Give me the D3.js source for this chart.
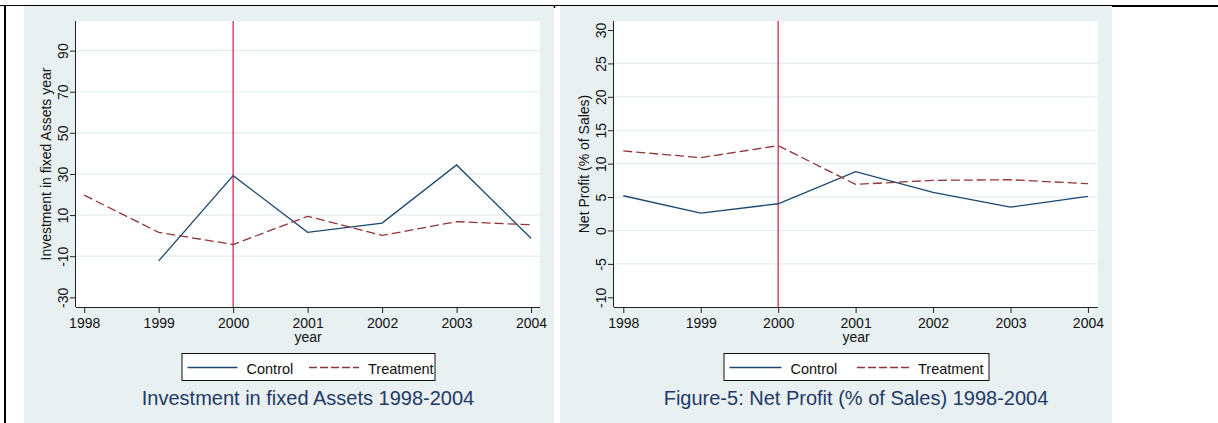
<!DOCTYPE html>
<html>
<head>
<meta charset="utf-8">
<script src="https://cdn.jsdelivr.net/npm/d3@7"></script>
<style>
  html, body { margin: 0; padding: 0; background: #ffffff; }
  svg { display: block; font-family: "Liberation Sans", Arial, sans-serif; }
</style>
</head>
<body>
<svg id="chart" width="1218" height="423"></svg>
<script>
// ---- data ----
const years = [1998, 1999, 2000, 2001, 2002, 2003, 2004];
const investControl   = [null, -12.3, 29.2, 1.6, 6.1, 34.4, -1.3];
const investTreatment = [19.7, 1.6, -4.3, 9.4, 0.1, 6.8, 5.3];
const profitControl   = [5.2, 2.6, 4.0, 8.8, 5.7, 3.5, 5.1];
const profitTreatment = [11.9, 10.9, 12.7, 6.9, 7.5, 7.6, 7.0];
const investTicks = [-30, -10, 10, 30, 50, 70, 90];
const investGrid  = [-10, 10, 30, 50, 70, 90];
const profitTicks = [-10, -5, 0, 5, 10, 15, 20, 25, 30];
const profitGrid  = [-5, 0, 5, 10, 15, 20, 25];
const seriesNames = ["Control", "Treatment"];
const eventYear = 2000;

// ---- styles ----
const BG = "#e8f0f2";
const GRID = "#e3ecef";
const C_CONTROL = "#1a476f";
const C_TREAT = "#90353b";
const C_EVENT = "#d31840";
const C_TITLE = "#1f3a66";
const FONT = "Liberation Sans, Arial, sans-serif";

const svg = d3.select("#chart");

function panel(cfg) {
  const g = svg.append("g");
  // panel background
  g.append("rect").attr("x", cfg.bgX0).attr("y", 6)
    .attr("width", cfg.bgX1 - cfg.bgX0).attr("height", 423 - 6).attr("fill", BG);
  const L = cfg.plotL, R = cfg.plotR, T = 21, B = 307;
  g.append("rect").attr("x", L).attr("y", T).attr("width", R - L).attr("height", B - T).attr("fill", "#ffffff");

  const x = d3.scaleLinear().domain(cfg.xDomain).range([L, R]);
  const y = d3.scaleLinear().domain(cfg.yDomain).range([B, T]);

  // gridlines
  g.append("g").selectAll("line").data(cfg.grid).join("line")
    .attr("x1", L).attr("x2", R)
    .attr("y1", d => y(d)).attr("y2", d => y(d))
    .attr("stroke", GRID).attr("stroke-width", 1.2);

  // event line
  g.append("line").attr("x1", x(eventYear)).attr("x2", x(eventYear))
    .attr("y1", T).attr("y2", B).attr("stroke", C_EVENT).attr("stroke-width", 1.2);

  // series lines
  const line = d3.line().defined(d => d[1] !== null).x(d => x(d[0])).y(d => y(d[1]));
  g.append("path").datum(years.map((yr, i) => [yr, cfg.control[i]]))
    .attr("d", line).attr("fill", "none").attr("stroke", C_CONTROL).attr("stroke-width", 1.3);
  g.append("path").datum(years.map((yr, i) => [yr, cfg.treat[i]]))
    .attr("d", line).attr("fill", "none").attr("stroke", C_TREAT).attr("stroke-width", 1.3)
    .attr("stroke-dasharray", "9,4");

  // x axis
  const xa = g.append("g").attr("transform", `translate(0,${B})`)
    .call(d3.axisBottom(x).tickValues(years).tickFormat(d => String(d)).tickSize(6).tickSizeOuter(0).tickPadding(5));
  xa.select(".domain").attr("d", `M${L},0.5H${R}`).attr("stroke", "#222");
  xa.selectAll(".tick line").attr("stroke", "#222");
  xa.selectAll(".tick text").attr("font-size", 14).attr("fill", "#111").attr("font-family", FONT);

  // y axis
  const ya = g.append("g").attr("transform", `translate(${L},0)`)
    .call(d3.axisLeft(y).tickValues(cfg.ticks).tickFormat(d => String(d)).tickSize(6).tickSizeOuter(0));
  ya.select(".domain").attr("d", `M-0.5,${T}V${B}`).attr("stroke", "#222");
  ya.selectAll(".tick line").attr("stroke", "#222");
  ya.selectAll(".tick text").attr("x", null).attr("dy", null)
    .attr("text-anchor", "middle").attr("transform", "translate(-8,0) rotate(-90)")
    .attr("font-size", 14).attr("fill", "#111").attr("font-family", FONT);

  // axis titles
  const cx = (L + R) / 2;
  g.append("text").attr("x", cx).attr("y", 342).attr("text-anchor", "middle")
    .attr("font-size", 14).attr("fill", "#111").text("year");
  g.append("text").attr("transform", `translate(${L - 25},${(T + B) / 2}) rotate(-90)`)
    .attr("text-anchor", "middle").attr("font-size", 14).attr("fill", "#111").text(cfg.yTitle);

  // legend
  const lw = cfg.legendW;
  const lx = cx - lw / 2, ly = 353, lh = 27;
  g.append("rect").attr("x", lx + 0.5).attr("y", ly + 0.5).attr("width", lw).attr("height", lh)
    .attr("fill", "#ffffff").attr("stroke", "#111").attr("stroke-width", 1);
  const keyLen = cfg.keyLen;
  const items = [
    { name: seriesNames[0], x0: lx + 6, color: C_CONTROL, dash: null },
    { name: seriesNames[1], x0: cx + 1, color: C_TREAT, dash: "8,3" }
  ];
  items.forEach(it => {
    g.append("line").attr("x1", it.x0).attr("x2", it.x0 + keyLen)
      .attr("y1", 367.5).attr("y2", 367.5).attr("stroke", it.color).attr("stroke-width", 1.3)
      .attr("stroke-dasharray", it.dash);
    g.append("text").attr("x", it.x0 + keyLen + 9).attr("y", 373.5)
      .attr("font-size", 14.5).attr("fill", "#111").text(it.name);
  });

  // title
  g.append("text").attr("x", cx).attr("y", 405).attr("text-anchor", "middle")
    .attr("font-size", 20).attr("fill", C_TITLE).text(cfg.title);
}

panel({
  bgX0: 24, bgX1: 554, plotL: 76, plotR: 540,
  xDomain: [1997.89, 2004.12], yDomain: [-34.7, 104.4],
  ticks: investTicks, grid: investGrid,
  control: investControl, treat: investTreatment,
  yTitle: "Investment in fixed Assets year",
  title: "Investment in fixed Assets 1998-2004",
  legendW: 253, keyLen: 50
});
panel({
  bgX0: 560, bgX1: 1112, plotL: 614, plotR: 1098,
  xDomain: [1997.88, 2004.13], yDomain: [-11.45, 31.35],
  ticks: profitTicks, grid: profitGrid,
  control: profitControl, treat: profitTreatment,
  yTitle: "Net Profit (% of Sales)",
  title: "Figure-5: Net Profit (% of Sales) 1998-2004",
  legendW: 265, keyLen: 52
});

// table borders
svg.append("line").attr("x1", 0).attr("x2", 1218).attr("y1", 5.5).attr("y2", 5.5)
  .attr("stroke", "#000").attr("stroke-width", 1);
svg.append("line").attr("x1", 1112).attr("x2", 1218).attr("y1", 6.5).attr("y2", 6.5)
  .attr("stroke", "#000").attr("stroke-width", 1);
svg.append("line").attr("x1", 5).attr("x2", 5).attr("y1", 5).attr("y2", 423)
  .attr("stroke", "#000").attr("stroke-width", 2);
svg.append("line").attr("x1", 554.5).attr("x2", 554.5).attr("y1", 5).attr("y2", 8)
  .attr("stroke", "#000").attr("stroke-width", 1.5);
</script>
</body>
</html>
